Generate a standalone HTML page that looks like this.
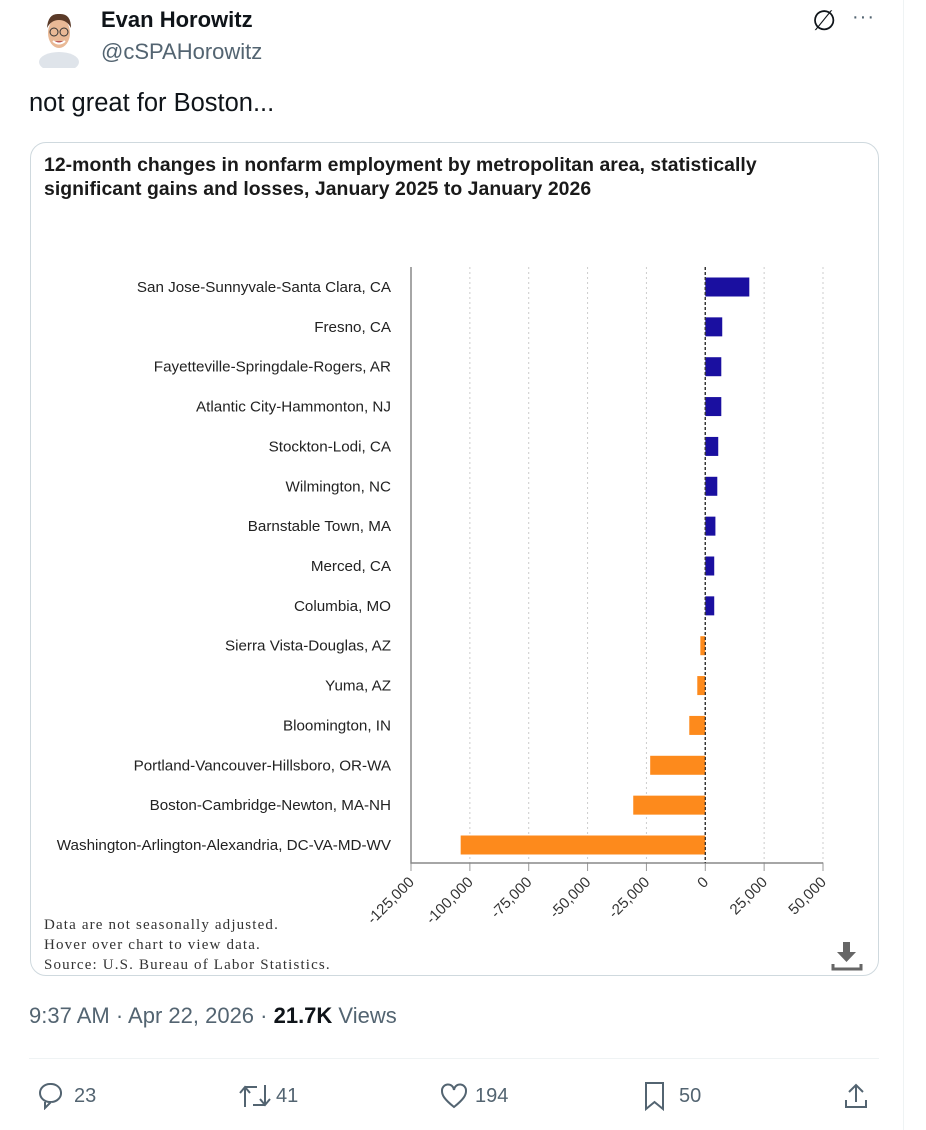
<!DOCTYPE html>
<html><head><meta charset="utf-8">
<style>
body{margin:0;width:926px;height:1130px;background:#fff;font-family:"Liberation Sans",sans-serif;position:relative;overflow:hidden}
.abs{position:absolute}
</style></head><body>
<div class="abs" style="left:903px;top:0;width:1px;height:1130px;background:#eff3f4"></div>
<svg class="abs" style="left:34px;top:8px" width="50" height="60" viewBox="0 0 50 60">
<ellipse cx="25" cy="54" rx="20" ry="10" fill="#dfe4ea"/><ellipse cx="25" cy="25" rx="11" ry="15" fill="#e9b996"/><path d="M13 20 Q14 5 25 6 Q37 5 37 20 Q33 12 25 12 Q17 12 13 20Z" fill="#5a3a28"/><circle cx="20" cy="24" r="4" fill="none" stroke="#333"/><circle cx="30" cy="24" r="4" fill="none" stroke="#333"/><path d="M19 33 Q25 38 31 33" stroke="#fff" stroke-width="2" fill="#b55"/></svg>
<div class="abs" style="left:101px;top:7px;font-size:22px;font-weight:bold;color:#0f1419">Evan Horowitz</div>
<div class="abs" style="left:101px;top:39px;font-size:22px;color:#536471">@cSPAHorowitz</div>
<div class="abs" style="left:812px;top:4px;font-size:28px;color:#0f1419">∅</div>
<div class="abs" style="left:852px;top:6px;font-size:20px;color:#536471;letter-spacing:1px">···</div>
<div class="abs" style="left:29px;top:89px;font-size:25.5px;color:#0f1419">not great for Boston...</div>
<div class="abs" style="left:30px;top:142px;width:847px;height:832px;border:1px solid #cfd9de;border-radius:16px"></div>
<div class="abs" style="left:44px;top:153px;font-size:19.4px;font-weight:bold;color:#1a1a1a;line-height:24px;letter-spacing:0.05px">12-month changes in nonfarm employment by metropolitan area, statistically<br>significant gains and losses, January 2025 to January 2026</div>
<svg class="abs" id="chart" style="left:0;top:0" width="926" height="980"></svg>
<div class="abs" style="left:44px;top:915px;font-size:15px;color:#333;line-height:20px;font-family:'Liberation Serif',serif;letter-spacing:1.15px">Data are not seasonally adjusted.<br>Hover over chart to view data.<br>Source: U.S. Bureau of Labor Statistics.</div>
<svg class="abs" style="left:831px;top:940px" width="32" height="32"><path d="M12 2h7v10h6l-9.5 10L6 12h6z" fill="#666"/><path d="M2 24v5h28v-5" stroke="#666" stroke-width="3" fill="none"/></svg>
<div class="abs" style="left:29px;top:1003px;font-size:22px;color:#536471">9:37 AM · Apr 22, 2026 · <b style="color:#0f1419">21.7K</b> Views</div>
<div class="abs" style="left:29px;top:1058px;width:850px;height:1px;background:#eff3f4"></div>
<svg class="abs" style="left:37px;top:1082px" width="26" height="28"><path d="M13 2a10 9 0 1 0 0 18h1l-6 6v-6" fill="none" stroke="#536471" stroke-width="2"/><path d="M13 2a10 9 0 0 1 2 18" fill="none" stroke="#536471" stroke-width="2"/></svg>
<div class="abs" style="left:74px;top:1085px;font-size:20px;color:#536471">23</div>
<svg class="abs" style="left:238px;top:1083px" width="34" height="26"><path d="M7 24V5M2 10l5-6 5 6M7 4h12M27 2v19M22 16l5 6 5-6M27 22H15" fill="none" stroke="#536471" stroke-width="2"/></svg>
<div class="abs" style="left:276px;top:1085px;font-size:20px;color:#536471">41</div>
<svg class="abs" style="left:440px;top:1083px" width="28" height="26"><path d="M14 24C4 16 2 12 2 8a6 6 0 0 1 12-1 6 6 0 0 1 12 1c0 4-2 8-12 16z" fill="none" stroke="#536471" stroke-width="2"/></svg>
<div class="abs" style="left:475px;top:1085px;font-size:20px;color:#536471">194</div>
<svg class="abs" style="left:643px;top:1081px" width="24" height="30"><path d="M3 2h17v26l-8.5-7L3 28z" fill="none" stroke="#536471" stroke-width="2"/></svg>
<div class="abs" style="left:679px;top:1085px;font-size:20px;color:#536471">50</div>
<svg class="abs" style="left:843px;top:1082px" width="26" height="28"><path d="M13 3v17M6 10l7-7 7 7M3 18v7h20v-7" fill="none" stroke="#536471" stroke-width="2"/></svg>
<script>
const categories=["San Jose-Sunnyvale-Santa Clara, CA","Fresno, CA","Fayetteville-Springdale-Rogers, AR","Atlantic City-Hammonton, NJ","Stockton-Lodi, CA","Wilmington, NC","Barnstable Town, MA","Merced, CA","Columbia, MO","Sierra Vista-Douglas, AZ","Yuma, AZ","Bloomington, IN","Portland-Vancouver-Hillsboro, OR-WA","Boston-Cambridge-Newton, MA-NH","Washington-Arlington-Alexandria, DC-VA-MD-WV"];
const values=[18700,7200,6800,6800,5500,5100,4300,3800,3800,-2100,-3400,-6800,-23400,-30600,-103900];
const ticks=[-125000,-100000,-75000,-50000,-25000,0,25000,50000];
const tickLabels=["-125,000","-100,000","-75,000","-50,000","-25,000","0","25,000","50,000"];
const svg=document.getElementById('chart');
const NS="http://www.w3.org/2000/svg";
const x0=411,x1=823,vmin=-125000,vmax=50000,top0=267,bottom=863;
function xs(v){return x0+(v-vmin)/(vmax-vmin)*(x1-x0);}
function ys(i){return 287+i*(845-287)/(categories.length-1);}
function mk(t,a){const e=document.createElementNS(NS,t);for(const k in a)e.setAttribute(k,a[k]);svg.appendChild(e);return e;}
ticks.forEach((t,i)=>{
 if(t!==vmin){const g=mk('line',{x1:xs(t),x2:xs(t),y1:top0,y2:bottom,stroke:t===0?'#333':'#ccc','stroke-dasharray':t===0?'3,2':'2,3','stroke-width':t===0?1.3:1});
 
 }
 const tk=mk('line',{x1:xs(t),x2:xs(t),y1:bottom,y2:bottom+8,stroke:'#999'});
 
 
 const tx=mk('text',{x:xs(t)+4,y:bottom+20,'text-anchor':'end','font-size':'15','fill':'#333',transform:`rotate(-45 ${xs(t)+4} ${bottom+20})`,'font-family':'Liberation Sans, sans-serif'});
 tx.textContent=tickLabels[i];
 
 
});
const ax=mk('path',{d:`M${x0} ${top0}V${bottom}H${x1}`,stroke:'#888','stroke-width':1.5,fill:'none'});


categories.forEach((c,i)=>{
 const v=values[i],y=ys(i);
 const r=mk('rect',{x:Math.min(xs(0),xs(v)),y:y-9.5,width:Math.abs(xs(v)-xs(0)),height:19,fill:v>=0?'#1a0fa0':'#fd8a1c'});
 
 
 const t=mk('text',{x:391,y:y+5,'text-anchor':'end','font-size':'15.2','fill':'#222','font-family':'Liberation Sans, sans-serif'});
 t.textContent=c;
 
 
});
const z=mk('line',{x1:xs(0),x2:xs(0),y1:top0,y2:bottom,stroke:'#333','stroke-dasharray':'3,2','stroke-width':1.3});


</script>
</body></html>
